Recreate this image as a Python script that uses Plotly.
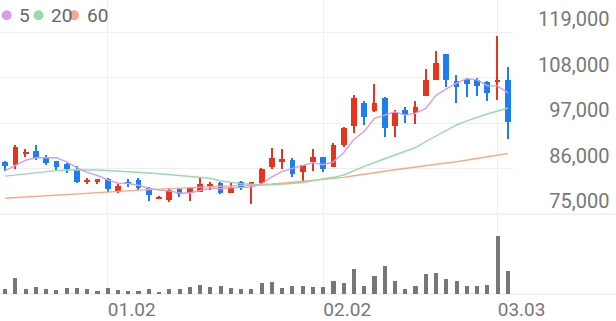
import plotly.graph_objects as go

# ---------------- data ----------------
dates = ["12.16", "12.17", "12.18", "12.19", "12.22", "12.23", "12.24", "12.26", "12.29", "12.30",
         "01.02", "01.05", "01.06", "01.07", "01.08", "01.09", "01.12", "01.13", "01.14", "01.15",
         "01.16", "01.19", "01.20", "01.21", "01.22", "01.23", "01.26", "01.27", "01.28", "01.29",
         "01.30", "02.02", "02.03", "02.04", "02.05", "02.06", "02.09", "02.10", "02.11", "02.12",
         "02.13", "02.19", "02.20", "02.23", "02.24", "02.25", "02.26", "02.27", "03.03", "03.04"]

opens = [87600, 86800, 89700, 90200, 88500, 87800, 87000, 85600, 82700, 82700,
         83400, 80600, 82800, 83200, 81200, 78800, 78400, 81000, 80000, 80400,
         81800, 82400, 80000, 82800, 82000, 82400, 86300, 87800, 88100, 85200,
         87600, 88700, 86400, 91700, 96300, 101900, 100000, 103000, 96300, 100100,
         99500, 103600, 107400, 113700, 107200, 107600, 107400, 107000, 106900, 107400]
highs = [87700, 91700, 90600, 91700, 89300, 87900, 87400, 86600, 83800, 83400,
         83600, 82400, 83400, 83700, 81600, 79400, 81200, 81400, 81300, 84000,
         82800, 82800, 82400, 83000, 82800, 86100, 90900, 90600, 88500, 86900,
         90600, 88800, 92100, 96100, 103800, 102200, 106400, 103400, 100100, 100800,
         102400, 110000, 114500, 113800, 108600, 107800, 107800, 107100, 118000, 110500]
lows = [85500, 86000, 88700, 88100, 86800, 85600, 84800, 82600, 82300, 82300,
        80400, 80100, 81600, 80700, 78200, 78600, 78000, 79200, 78200, 80400,
        80800, 79800, 80000, 80800, 77400, 82300, 86000, 86000, 84000, 82800,
        85400, 85200, 86300, 91300, 94500, 96500, 99700, 93500, 93700, 97000,
        96800, 103500, 107300, 105800, 101800, 103400, 103600, 102400, 102600, 93100]
closes = [86600, 91100, 90000, 88500, 87300, 86300, 85800, 82800, 83200, 83400,
          81000, 81800, 82400, 81200, 79600, 79000, 80800, 79800, 81200, 82200,
          82200, 80100, 81400, 81200, 82700, 86000, 88500, 88200, 84700, 86800,
          88900, 86000, 91700, 95700, 103000, 98400, 101800, 95700, 99700, 98900,
          100900, 107400, 111600, 107400, 105800, 106400, 106000, 104300, 107400, 97300]

ma5 = [85500, 86800, 88000, 88600, 88700, 88640, 87580, 86140, 85080, 84300,
       83240, 82440, 82360, 81960, 81200, 80800, 80600, 80080, 80080, 80600,
       81240, 81100, 81420, 81420, 81520, 82280, 83960, 85320, 86020, 86840,
       87420, 86920, 87620, 89820, 93060, 94960, 98120, 98920, 99720, 98900,
       99400, 100520, 103700, 105240, 106620, 107720, 107440, 105980, 105980, 104280]
ma20 = [84160, 84430, 84740, 85110, 85320, 85490, 85640, 85680, 85680, 85640,
        85520, 85400, 85300, 85110, 84910, 84740, 84500, 84310, 84140, 83940,
        83630, 82980, 82590, 82350, 82180, 82010, 82060, 82180, 82370, 82610,
        82980, 83390, 83870, 84430, 85520, 86530, 87450, 88340, 89260, 90160,
        91070, 92530, 93860, 95310, 96520, 97530, 98450, 99180, 99900, 100630]
ma60 = [78800, 78960, 79130, 79270, 79420, 79590, 79740, 79880, 80050, 80200,
        80340, 80510, 80680, 80800, 80900, 81020, 81140, 81260, 81410, 81580,
        81670, 81770, 81840, 81910, 81960, 82060, 82250, 82450, 82660, 82880,
        83100, 83320, 83560, 83850, 84260, 84670, 85010, 85350, 85690, 86050,
        86360, 86700, 87020, 87330, 87640, 88050, 88470, 88830, 89220, 89630]

volumes = [235, 815, 235, 365, 250, 200, 285, 315, 235, 150,
           285, 200, 165, 165, 235, 115, 235, 235, 335, 435,
           335, 415, 315, 250, 235, 535, 615, 315, 415, 385,
           335, 335, 665, 535, 1250, 415, 915, 1415, 665, 250,
           415, 1000, 1035, 750, 665, 415, 385, 450, 2885, 1165]

price_ticks = [75000, 86000, 97000, 108000, 119000]
price_tick_text = ["\u200775,000", "\u200786,000", "\u200797,000", "108,000", "119,000"]
date_ticks = ["01.02", "02.02", "03.03"]
ma_names = ["5", "20", "60"]

# ---------------- styles ----------------
UP = "#e8341c"
DOWN = "#1c7ef0"
MA_COLORS = ["#d59cf0", "#96dba8", "#f8a985"]
GRID = "#efefef"
FONT = "Roboto"

body_base = [min(o, c) for o, c in zip(opens, closes)]
body_h = [abs(c - o) for o, c in zip(opens, closes)]
colors = [UP if c >= o else DOWN for o, c in zip(opens, closes)]
wick_h = [h - l for h, l in zip(highs, lows)]

fig = go.Figure()

for vals, col in zip([ma60, ma20, ma5], [MA_COLORS[2], MA_COLORS[1], MA_COLORS[0]]):
    fig.add_trace(go.Scatter(x=dates, y=vals, mode="lines",
                             line=dict(color=col, width=1.4),
                             xaxis="x", yaxis="y", hoverinfo="skip"))

fig.add_trace(go.Bar(x=dates, y=wick_h, base=lows, width=0.13,
                     marker=dict(color=colors, line=dict(width=0)),
                     xaxis="x", yaxis="y", hoverinfo="skip"))
fig.add_trace(go.Bar(x=dates, y=body_h, base=body_base, width=0.56,
                     marker=dict(color=colors, line=dict(width=0)),
                     xaxis="x", yaxis="y", hoverinfo="skip"))

fig.add_trace(go.Bar(x=dates, y=volumes, width=0.4,
                     marker=dict(color="#777777", line=dict(width=0)),
                     xaxis="x2", yaxis="y2", hoverinfo="skip"))

W, H = 616, 321
ML, MR, MT, MB = 0, 103, 0, 27
plot_w = W - ML - MR
plot_h = H - MT - MB
split = (plot_h - 214) / plot_h  # price panel bottom (75,000 line)
top_val = 119000 + 32 * (44000 / 182)
vol_panel_px = plot_h - 214

fig.update_layout(
    width=W, height=H,
    margin=dict(l=ML, r=MR, t=MT, b=MB),
    paper_bgcolor="white", plot_bgcolor="white",
    showlegend=False, barmode="overlay", bargap=0,
    font=dict(family=FONT, color="#777777", size=19),
    xaxis=dict(type="category", categoryorder="array", categoryarray=dates,
               range=[-0.5, 49.5], domain=[0, 1], anchor="y",
               tickvals=date_ticks, showticklabels=False, ticks="",
               showgrid=True, gridcolor=GRID, gridwidth=1, zeroline=False, showline=False),
    xaxis2=dict(type="category", categoryorder="array", categoryarray=dates,
                range=[-0.5, 49.5], domain=[0, 1], anchor="y2", matches="x",
                tickvals=date_ticks, ticktext=date_ticks, ticks="",
                ticklabelshift=24, ticklabelstandoff=2,
                tickfont=dict(family=FONT, size=19, color="#777777"),
                showgrid=True, gridcolor=GRID, gridwidth=1, zeroline=False, showline=False),
    yaxis=dict(domain=[split, 1], range=[75000, top_val], side="right",
               tickvals=price_ticks, ticktext=price_tick_text, ticks="",
               ticklabelstandoff=24, ticklabelshift=-13,
               tickfont=dict(family=FONT, size=20, color="#777777"),
               showgrid=True, gridcolor=GRID, gridwidth=1, zeroline=False, showline=False),
    yaxis2=dict(domain=[0, split], range=[0, 50 * vol_panel_px],
                showticklabels=False, ticks="", showgrid=False, zeroline=False, showline=False),
)

# full-width separator lines
for yy in [split, 0]:
    fig.add_shape(type="line", xref="paper", yref="paper",
                  x0=0, x1=W / plot_w, y0=yy, y1=yy,
                  line=dict(color="#e6e6e6", width=1.2), layer="below")

# legend: coloured dots + labels
dot_cx = [6.7, 38.5, 74]
label_x = [14, 46, 82]
legend_y = 1 - 15.3 / plot_h
for name, col, cx, lx in zip(ma_names, MA_COLORS, dot_cx, label_x):
    fig.add_shape(type="circle", xref="paper", yref="paper",
                  xsizemode="pixel", ysizemode="pixel",
                  xanchor=cx / plot_w, yanchor=legend_y,
                  x0=-5, x1=5, y0=-5, y1=5,
                  fillcolor=col, line=dict(width=0))
    fig.add_annotation(text=name, xref="paper", yref="paper",
                       x=lx / plot_w, y=legend_y, xanchor="left", yanchor="middle",
                       xshift=3, showarrow=False,
                       font=dict(family=FONT, size=19, color="#666666"))

fig.write_html("out.html")
